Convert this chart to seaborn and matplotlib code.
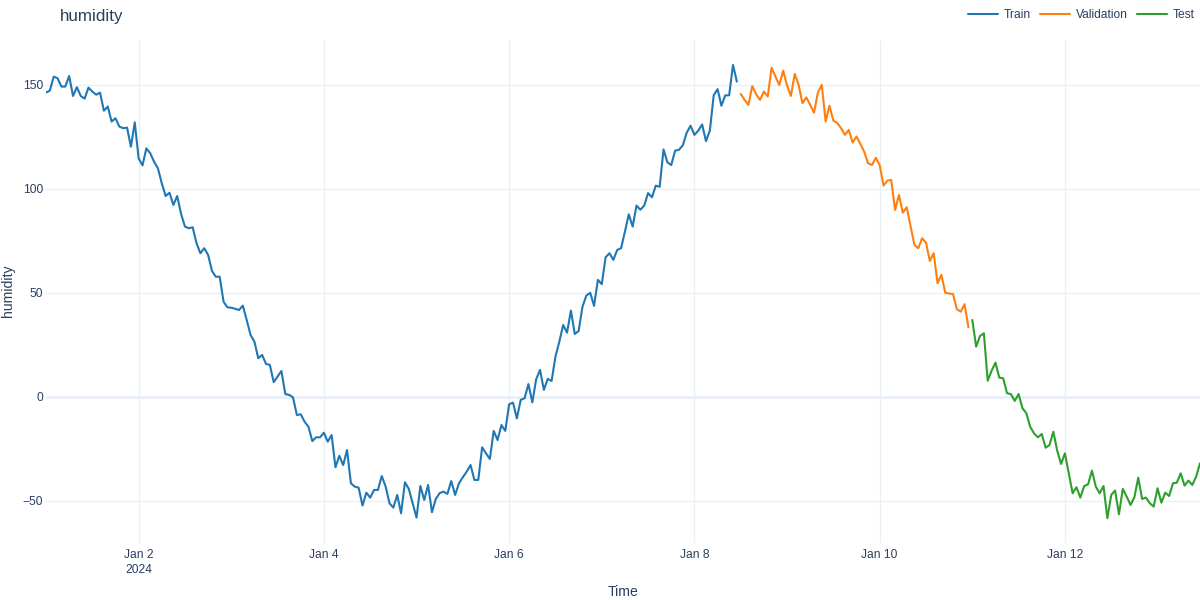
import numpy as np
import pandas as pd
import matplotlib
matplotlib.use("Agg")
import matplotlib.pyplot as plt
import seaborn as sns

# ---- data (hourly, starting 2024-01-01 00:00) ----
start_time = "2024-01-01 00:00"
train_values = [
    146.3, 147.3, 154.0, 153.2, 149.2, 149.2, 154.3, 144.7, 148.9, 144.7,
    143.4, 148.7, 146.8, 145.3, 146.3, 137.6, 139.6, 132.4, 134.0, 130.0,
    129.2, 129.5, 120.3, 132.0, 114.7, 111.3, 119.5, 117.2, 113.1, 109.9,
    102.7, 96.6, 98.2, 92.3, 96.6, 88.0, 81.9, 81.1, 81.6, 73.9,
    69.1, 71.5, 68.3, 60.6, 57.8, 57.8, 45.8, 43.1, 42.9, 42.4,
    41.8, 43.9, 37.0, 29.8, 26.6, 18.6, 20.2, 15.9, 15.4, 7.1,
    9.8, 12.5, 1.4, 1.0, -0.2, -8.7, -8.3, -11.9, -14.3, -21.2,
    -19.4, -19.4, -17.2, -21.5, -18.3, -33.8, -28.3, -32.7, -25.5, -41.5,
    -43.1, -43.6, -52.2, -46.0, -48.4, -44.7, -44.7, -38.0, -43.1, -51.1,
    -53.2, -47.1, -55.9, -41.0, -44.2, -51.1, -58.0, -42.8, -49.5, -42.3,
    -55.4, -49.0, -46.2, -45.5, -46.6, -40.4, -47.1, -41.5, -38.6, -35.9,
    -32.7, -39.9, -39.9, -24.2, -27.1, -29.8, -16.3, -20.7, -13.5, -16.3,
    -3.5, -2.7, -10.3, -1.4, -0.6, 6.2, -2.6, 8.5, 13.0, 3.4,
    8.7, 7.7, 19.4, 26.6, 34.6, 30.9, 41.5, 30.3, 31.7, 43.4,
    48.7, 50.1, 43.8, 56.3, 54.2, 67.2, 69.1, 65.9, 70.7, 71.5,
    79.5, 87.8, 81.9, 92.0, 90.0, 92.0, 98.0, 96.0, 101.6, 101.0,
    119.0, 112.8, 111.5, 118.4, 118.8, 121.0, 127.0, 130.4, 126.0, 128.0,
    131.0, 123.0, 128.0, 145.0, 148.0, 140.0, 145.0, 145.0, 159.6, 151.6,
]
validation_values = [
    145.7, 142.8, 140.4, 149.5, 145.5, 142.8, 146.8, 144.4, 158.3, 154.0,
    150.0, 156.9, 149.7, 144.7, 155.3, 150.0, 141.2, 144.0, 140.4, 136.7,
    146.4, 150.0, 132.4, 140.0, 132.8, 131.8, 129.2, 126.0, 128.4, 122.3,
    125.2, 121.6, 117.9, 112.3, 111.5, 115.0, 111.5, 101.6, 104.0, 104.3,
    89.9, 97.1, 88.6, 91.2, 82.2, 73.1, 71.5, 76.3, 74.2, 65.4,
    69.1, 54.7, 58.7, 50.1, 49.7, 49.5, 42.2, 41.0, 44.6, 33.5,
]
test_values = [
    37.0, 24.2, 29.3, 30.6, 7.8, 12.6, 16.5, 9.3, 9.0, 1.8,
    1.4, -1.9, 1.4, -5.4, -7.8, -14.3, -17.5, -19.4, -17.8, -24.4,
    -23.1, -16.7, -25.8, -32.2, -27.1, -36.7, -46.3, -43.4, -48.4, -42.8,
    -42.0, -35.4, -43.1, -46.3, -42.8, -58.3, -47.1, -45.0, -56.4, -44.2,
    -47.9, -51.9, -48.2, -38.8, -49.0, -48.4, -51.1, -52.7, -43.9, -50.8,
    -46.0, -47.6, -41.5, -41.2, -36.7, -42.6, -40.2, -42.3, -38.3, -31.9,
]
split_names = ["Train", "Validation", "Test"]
split_colors = ["#1f77b4", "#ff7f0e", "#2ca02c"]
y_ticks = [-50, 0, 50, 100, 150]
x_tick_dates = ["2024-01-02", "2024-01-04", "2024-01-06",
                "2024-01-08", "2024-01-10", "2024-01-12"]
x_tick_labels = ["Jan 2\n2024", "Jan 4", "Jan 6", "Jan 8", "Jan 10", "Jan 12"]

all_values = train_values + validation_values + test_values
splits = (["Train"] * len(train_values) + ["Validation"] * len(validation_values)
          + ["Test"] * len(test_values))
times = pd.date_range(start_time, periods=len(all_values), freq="h")
df = pd.DataFrame({"Time": times, "humidity": all_values, "split": splits})

# ---- style ----
sns.set_style("white")
plt.rcParams["font.family"] = ["Liberation Sans", "DejaVu Sans"]
plt.rcParams["axes.unicode_minus"] = True
text_color = "#2a3f5f"
grid_color = "#EBF0F8"

fig = plt.figure(figsize=(12, 6), dpi=100)
ax = fig.add_axes([46 / 1200, 1 - 543 / 600, 1 - 46 / 1200, (543 - 40) / 600])

sns.lineplot(data=df, x="Time", y="humidity", hue="split",
             hue_order=split_names, palette=split_colors,
             linewidth=1.5, ax=ax, legend=True, zorder=3)

ax.set_xlim(times[0], times[-1])
ax.set_ylim(-70.2, 171.6)
ax.set_yticks(y_ticks)
ax.set_xticks([pd.Timestamp(d) for d in x_tick_dates])
ax.set_xticklabels(x_tick_labels, linespacing=1.35)

for s in ax.spines.values():
    s.set_visible(False)
ax.grid(True, color=grid_color, linewidth=1, zorder=0)
ax.axhline(0, color=grid_color, linewidth=2, zorder=1)
ax.set_axisbelow(True)
ax.tick_params(axis="both", length=0, labelsize=8.64, colors=text_color)
ax.tick_params(axis="y", pad=2)
ax.tick_params(axis="x", pad=4)

ax.set_xlabel("Time", fontsize=10.08, color=text_color)
ax.set_ylabel("humidity", fontsize=10.08, color=text_color)
ax.xaxis.label.set_va("center")
ax.yaxis.label.set_va("center")
ax.xaxis.set_label_coords((623 - 46) / (1200 - 46), -(592 - 543) / (543 - 40))
ax.yaxis.set_label_coords(-(46 - 8) / (1200 - 46), (543 - 291) / (543 - 40))

fig.text(60 / 1200, 1 - 16 / 600, "humidity", fontsize=12.24,
         color=text_color, ha="left", va="center")

handles, labels = ax.get_legend_handles_labels()
leg = ax.legend(handles, labels, ncol=3, frameon=False,
                loc="center right", bbox_to_anchor=(1.0, 1 - 15 / 600),
                bbox_transform=fig.transFigure, fontsize=8.64,
                handlelength=2.5, handletextpad=0.45, columnspacing=0.8,
                borderaxespad=0.05)
for t in leg.get_texts():
    t.set_color(text_color)
for h in leg.get_lines():
    h.set_linewidth(1.5)

fig.savefig("out.png", dpi=100)
